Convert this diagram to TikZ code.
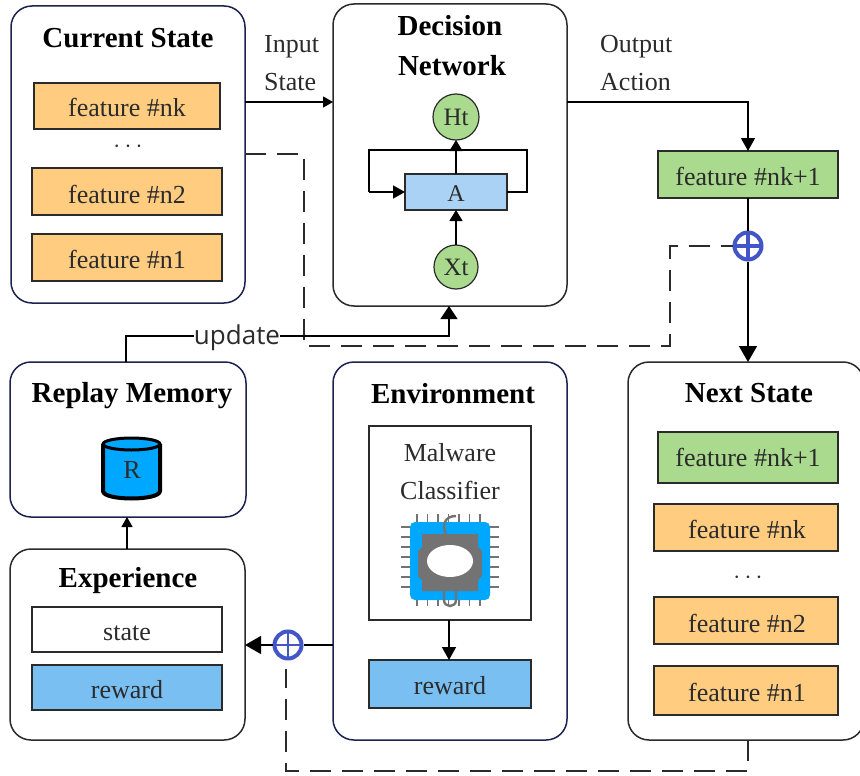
\documentclass[tikz,border=0pt]{standalone}
\usepackage{fontspec}
\setmainfont{Liberation Serif}
\newfontfamily\updfont{Open Sans}
\usetikzlibrary{arrows.meta,shapes.geometric}
\definecolor{navy}{HTML}{1C2350}
\definecolor{dgrey}{HTML}{2B2B2B}
\definecolor{orangef}{HTML}{FFCC80}
\definecolor{greenf}{HTML}{A9DA8E}
\definecolor{bluef}{HTML}{A9D2F5}
\definecolor{rewardf}{HTML}{79BFF2}
\definecolor{cyanf}{HTML}{00A7FF}
\definecolor{plusc}{HTML}{4356C8}
\definecolor{chipg}{HTML}{737373}
\tikzset{
  x=1pt,y=-1pt,
  panel/.style={draw=#1,line width=1.5pt,rounded corners=21pt,fill=white,inner sep=0pt,outer sep=0pt},
  panel/.default=navy,
  fbox/.style={draw=dgrey,line width=1.2pt,inner sep=0pt,outer sep=0pt,text=dgrey,text height=21pt,text depth=0pt,font=\fontsize{26}{26}\selectfont},
  orbox/.style={fbox,fill=orangef},
  grbox/.style={fbox,fill=greenf},
  rwbox/.style={fbox,fill=rewardf},
  title/.style={font=\fontsize{29}{30}\bfseries\selectfont,text=black,inner sep=0pt},
  lbl/.style={font=\fontsize{26}{38}\selectfont,align=left,inner sep=0pt,text=dgrey},
  rnode/.style={circle,draw=dgrey,line width=1.2pt,fill=greenf,minimum size=#1,inner sep=0pt,outer sep=0pt,text=dgrey,font=\fontsize{25}{25}\selectfont},
  oplus/.style={circle,draw=plusc,line width=4pt,fill=white,minimum size=27pt,inner sep=0pt,outer sep=2pt},
  conn/.style={draw=black,line width=1.3pt},
  arr/.style={conn,-{Triangle[length=12pt,width=13pt]}},
  dashline/.style={draw=dgrey,line width=1.3pt,dash pattern=on 21pt off 11pt},
}
\begin{document}
\begin{tikzpicture}
\useasboundingbox (0,0) rectangle (860,776);
\fill[white] (0,0) rectangle (860,776);
% panels
\node[panel,minimum width=234pt,minimum height=297pt] (cur) at (128,154.5) {};
\node[panel=dgrey,minimum width=234pt,minimum height=302pt] (dec) at (450,155) {};
\node[panel,minimum width=236pt,minimum height=155pt] (rep) at (128,439.5) {};
\node[panel,minimum width=234pt,minimum height=378pt] (env) at (450,551) {};
\node[panel=dgrey,minimum width=236pt,minimum height=378pt] (nxt) at (746,551) {};
\node[panel=dgrey,minimum width=235pt,minimum height=191pt] (exp) at (127.5,644.5) {};
% titles
\node[title] (t1) at (128,38.5) {Current State};
\node[title] (t2) at (450,26) {Decision};
\node[title] (t3) at (452,65.5) {Network};
\node[title] (t4) at (132,396) {Replay Memory};
\node[title] (t5) at (453,393.5) {Environment};
\node[title] (t6) at (749,393) {Next State};
\node[title] (t7) at (128,581) {Experience};
% current state
\node[orbox,minimum width=186pt,minimum height=46pt] (c1) at (127,106) {feature \#nk};
\node[font=\fontsize{30}{30}\selectfont,text=dgrey] (cd) at (128,147) {$\cdots$};
\node[orbox,minimum width=190pt,minimum height=47pt,text height=24pt] (c2) at (127,191.5) {feature \#n2};
\node[orbox,minimum width=190pt,minimum height=47pt] (c3) at (127,257.5) {feature \#n1};
% labels
\node[lbl,anchor=north west] (inl) at (264,35) {Input\\State};
\node[lbl,anchor=north west] (outl) at (600,35) {Output\\Action};
% decision network
\node[rnode=46pt] (ht) at (456,117) {Ht};
\node[rnode=44pt] (xt) at (456,267) {Xt};
\node[fbox,fill=bluef,minimum width=102pt,minimum height=36pt,text height=19pt,font=\fontsize{24}{24}\selectfont] (a) at (456,192) {A};
\coordinate (tl) at (369,150);
\coordinate (tr) at (527,150);
\coordinate (tm) at (456,150);
\draw[conn,line width=1.5pt,rounded corners=0pt] (a.east) -- (a.east -| tr) -- (tr) -- (tl) -- (a.west -| tl);
\draw[arr,line width=1.5pt] (a.west -| tl) -- (a.west);
\draw[arr,line width=1.5pt,-{Triangle[length=11pt,width=13pt]}] (a.north) -- (ht.south);
\draw[arr,line width=1.5pt,-{Triangle[length=11pt,width=13pt]}] (xt.north) -- (a.south);
% next feature
\node[grbox,minimum width=180pt,minimum height=47pt] (g1) at (748,174.5) {feature \#nk+1};
\node[oplus] (p1) at (748,246) {};
\draw[plusc,line width=3.6pt] (p1.center) +(-12,0) -- +(12,0) (p1.center) +(0,-12) -- +(0,12);
% next state
\node[grbox,minimum width=180pt,minimum height=51pt,text height=18pt] (g2) at (748,457.5) {feature \#nk+1};
\node[orbox,minimum width=184pt,minimum height=47pt,xshift=0pt] (n1) at (746,527.5) {\hspace{2pt}feature \#nk};
\node[font=\fontsize{30}{30}\selectfont,text=dgrey] (nd) at (748,578) {$\cdots$};
\node[orbox,minimum width=184pt,minimum height=47pt,text height=24pt] (n2) at (746,620.5) {\hspace{2pt}feature \#n2};
\node[orbox,minimum width=184pt,minimum height=49pt] (n3) at (746,690.5) {\hspace{2pt}feature \#n1};
% experience
\node[fbox,fill=white,minimum width=190pt,minimum height=45pt] (st) at (127,629.5) {state};
\node[rwbox,minimum width=190pt,minimum height=45pt] (r1) at (127,687.5) {reward};
% environment
\node[draw=dgrey,line width=1.3pt,fill=white,minimum width=162pt,minimum height=194pt,inner sep=0pt,outer sep=0pt] (mc) at (450,523) {};
\node[lbl,align=center] (mct) at (450,472) {Malware\\Classifier};
\node[rwbox,minimum width=162pt,minimum height=48pt] (r2) at (450,684) {reward};
% chip
\begin{scope}[shift={(450,560)}]
  \draw[chipg,line width=1.8pt]
    \foreach \k in {-33,-22.5,...,34} {(\k,-46) -- (\k,-36) (\k,36) -- (\k,46)}
    \foreach \k in {-33,-23,...,34} {(-49,\k) -- (-38,\k) (38,\k) -- (49,\k)};
  \fill[cyanf,rounded corners=5pt] (-40,-38) rectangle (40,40);
  \fill[chipg] (-28,-26) -- (28,-26) -- (28,-13) -- (32,-9) -- (32,16) -- (28,20) -- (28,31) -- (-28,31) -- (-28,20) -- (-32,16) -- (-32,-9) -- (-28,-13) -- cycle;
  \fill[white] (0,1) ellipse (23pt and 16pt);
  \draw[chipg,line width=2.4pt] (-4,-26) .. controls (-8,-34) and (-6,-44) .. (6,-44);
  \draw[chipg,line width=2.4pt] (-6,31) -- (-6,40) .. controls (-6,48) and (6,48) .. (6,40) -- (6,31);
\end{scope}
% plus 2
\node[oplus] (p2) at (288,645) {};
\draw[plusc,line width=1.8pt] (p2.center) +(-14,0) -- +(14,0) (p2.center) +(0,-14) -- +(0,14);
% cylinder R
\fill[cyanf] (103,444) -- (103,491) .. controls (103,501) and (160,501) .. (160,491) -- (160,444) -- cycle;
\fill[cyanf] (131.5,444) ellipse (28.5pt and 6pt);
\draw[black,line width=4pt] (103,444) -- (103,491) .. controls (103,501) and (160,501) .. (160,491) -- (160,444);
\draw[black,line width=3pt] (131.5,444) ellipse (28.5pt and 6pt);
\node[font=\fontsize{26}{26}\selectfont,text=dgrey] (rr) at (132,470) {R};
% connectors
\coordinate (i1) at (245,102);
\coordinate (i2) at (333,102);
\draw[arr,-{Triangle[length=10pt,width=11pt]}] (i1) -- (i2);
\coordinate (o1) at (567,102);
\coordinate (o2) at (g1.north |- o1);
\draw[arr,-{Triangle[length=13pt,width=14pt]}] (o1) -- (o2) -- (g1.north);
\draw[conn] (g1.south) -- (p1.north);
\draw[arr,line width=1.5pt,-{Triangle[length=16pt,width=18pt]}] (p1.south) -- (p1.south |- nxt.north);
% dashed
\coordinate (d0) at (245,154);
\coordinate (d1) at (304,154);
\coordinate (d2) at (304,346);
\coordinate (d3) at (670,346);
\coordinate (d4) at (670,246);
\draw[dashline] (d0) -- (d1) -- (d2) -- (d3) -- (d4) -- (p1.west);
% update
\coordinate (u0) at (126,362);
\coordinate (u1) at (126,336);
\coordinate (u2) at (449,336);
\coordinate (u3) at (449,306);
\draw[arr,-{Triangle[length=13pt,width=17pt]}] (u0) -- (u1) -- (u2) -- (u3);
\node[fill=white,font=\updfont\fontsize{26}{26}\selectfont,text=dgrey,inner xsep=0pt,inner ysep=1pt] (up) at (237,338) {update};
% lower
\coordinate (e1) at (127,549);
\coordinate (e2) at (127,517);
\draw[arr,-{Triangle[length=10pt,width=11pt]}] (e1) -- (e2);
\draw[arr,line width=1.5pt,-{Triangle[length=13pt,width=14pt]}] (mc.south -| u2) -- (r2.north -| u2);
\coordinate (l1) at (333,645);
\draw[conn] (l1) -- (p2.east);
\coordinate (l2) at (245,645);
\draw[arr,-{Triangle[length=16pt,width=18pt]}] (p2.west) -- (l2);
\coordinate (b0) at (748,740);
\coordinate (b1) at (748,771);
\coordinate (b2) at (286,771);
\coordinate (b3) at (286,669);
\draw[dashline] (b0) -- (b1) -- (b2) -- (b3);
\end{tikzpicture}
\end{document}
